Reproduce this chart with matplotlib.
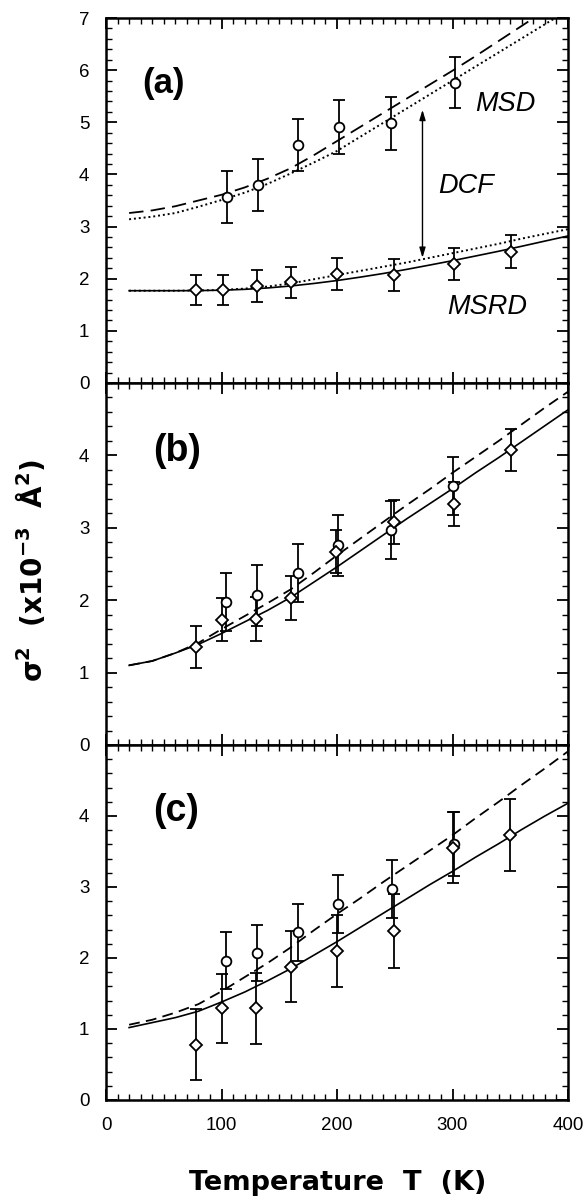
import matplotlib
matplotlib.use("Agg")
import matplotlib.pyplot as plt
from matplotlib.ticker import MultipleLocator

plt.rcParams['font.family'] = ['Liberation Sans', 'DejaVu Sans']
plt.rcParams['mathtext.fontset'] = 'dejavusans'

# ---------------- data ----------------
T_curve = [20, 40, 60, 80, 100, 120, 140, 160, 180, 200, 220, 240, 260, 280, 300, 320, 340, 360, 380, 400]

# panel (a)
a_msd_dash = [3.26, 3.31, 3.39, 3.50, 3.61, 3.75, 3.92, 4.12, 4.37, 4.64, 4.91, 5.18, 5.45, 5.72, 5.99, 6.27, 6.56, 6.85, 7.14, 7.43]
a_msd_dot = [3.14, 3.19, 3.26, 3.38, 3.51, 3.65, 3.82, 4.02, 4.23, 4.45, 4.72, 4.99, 5.26, 5.53, 5.80, 6.07, 6.34, 6.61, 6.88, 7.15]
a_msrd_solid = [1.77, 1.77, 1.77, 1.772, 1.78, 1.796, 1.823, 1.861, 1.909, 1.965, 2.03, 2.10, 2.178, 2.261, 2.346, 2.436, 2.527, 2.623, 2.722, 2.82]
a_msrd_dot = [1.77, 1.77, 1.77, 1.775, 1.785, 1.81, 1.85, 1.91, 1.99, 2.07, 2.15, 2.23, 2.31, 2.40, 2.49, 2.58, 2.67, 2.77, 2.86, 2.95]

a_circ_T = [105, 132, 166, 202, 247, 302]
a_circ_y = [3.56, 3.80, 4.56, 4.91, 4.98, 5.76]
a_circ_e = [0.50, 0.50, 0.50, 0.51, 0.51, 0.49]
a_diam_T = [78, 101, 131, 160, 200, 249, 301, 351]
a_diam_y = [1.79, 1.79, 1.86, 1.93, 2.09, 2.07, 2.28, 2.52]
a_diam_e = [0.29, 0.29, 0.30, 0.30, 0.30, 0.30, 0.30, 0.31]

# panel (b)
b_solid = [1.10, 1.16, 1.27, 1.39, 1.54, 1.70, 1.86, 2.04, 2.25, 2.46, 2.68, 2.90, 3.12, 3.33, 3.54, 3.76, 3.97, 4.19, 4.41, 4.63]
b_dash = [1.10, 1.16, 1.27, 1.41, 1.60, 1.78, 1.96, 2.15, 2.38, 2.62, 2.85, 3.08, 3.31, 3.53, 3.76, 3.98, 4.20, 4.43, 4.66, 4.88]
b_circ_T = [104, 131, 166, 201, 247, 300]
b_circ_y = [1.97, 2.07, 2.37, 2.76, 2.97, 3.58]
b_circ_e = [0.40, 0.42, 0.40, 0.42, 0.40, 0.40]
b_diam_T = [78, 100, 130, 160, 199, 249, 301, 351]
b_diam_y = [1.36, 1.73, 1.74, 2.03, 2.67, 3.08, 3.33, 4.07]
b_diam_e = [0.29, 0.30, 0.31, 0.30, 0.30, 0.30, 0.30, 0.29]

# panel (c)
c_solid = [1.02, 1.09, 1.16, 1.25, 1.38, 1.52, 1.68, 1.85, 2.04, 2.23, 2.43, 2.63, 2.83, 3.03, 3.22, 3.42, 3.61, 3.81, 4.00, 4.18]
c_dash = [1.06, 1.13, 1.23, 1.35, 1.53, 1.73, 1.93, 2.15, 2.39, 2.62, 2.84, 3.07, 3.29, 3.51, 3.73, 3.97, 4.20, 4.44, 4.67, 4.91]
c_circ_T = [104, 131, 166, 201, 248, 301]
c_circ_y = [1.96, 2.07, 2.36, 2.76, 2.97, 3.60]
c_circ_e = [0.40, 0.40, 0.40, 0.41, 0.41, 0.45]
c_diam_T = [78, 100, 130, 160, 200, 249, 300, 350]
c_diam_y = [0.78, 1.29, 1.29, 1.88, 2.10, 2.38, 3.55, 3.73]
c_diam_e = [0.50, 0.49, 0.50, 0.50, 0.51, 0.52, 0.50, 0.51]

x_ticks = [0, 100, 200, 300, 400]
panel_labels = ['(a)', '(b)', '(c)']

# ---------------- figure ----------------
fig = plt.figure(figsize=(5.88, 12.01), dpi=100)
L, W = 0.1803, 0.7857
axa = fig.add_axes([L, 0.6811, W, 0.985 - 0.6811])
axb = fig.add_axes([L, 0.3797, W, 0.6811 - 0.3797])
axc = fig.add_axes([L, 0.0841, W, 0.3797 - 0.0841])

def style(ax, ymax, ylabels_max, show_x):
    ax.set_xlim(0, 400)
    ax.set_ylim(0, ymax)
    ax.xaxis.set_major_locator(MultipleLocator(100))
    ax.xaxis.set_minor_locator(MultipleLocator(10))
    ax.yaxis.set_major_locator(MultipleLocator(1))
    ax.yaxis.set_minor_locator(MultipleLocator(0.2))
    ax.tick_params(which='both', direction='in', top=True, right=True)
    ax.tick_params(which='major', length=8, width=1.3, labelsize=13.5, pad=7)
    ax.tick_params(axis='y', which='major', pad=12)
    ax.tick_params(which='minor', length=4.5, width=1.0)
    ax.set_yticks(list(range(0, ylabels_max + 1)))
    if show_x:
        ax.set_xticks(x_ticks)
        ax.set_xticklabels([str(v) for v in x_ticks])
        ax.tick_params(axis='x', pad=12)
    else:
        ax.tick_params(axis='x', labelbottom=False)
    for s in ax.spines.values():
        s.set_linewidth(1.8)

style(axa, 7, 7, False)
style(axb, 5, 4, False)
style(axc, 5, 4, True)

ekw = dict(fmt='none', ecolor='black', elinewidth=1.3, capsize=4.5, capthick=1.3, zorder=3)
mkw = dict(linestyle='none', markerfacecolor='white', markeredgecolor='black',
           markeredgewidth=1.3, zorder=4)

# panel (a)
axa.plot(T_curve, a_msd_dash, color='black', lw=1.3, linestyle=(0, (8, 4)))
axa.plot(T_curve, a_msd_dot, color='black', lw=1.4, linestyle=(0, (1, 1.5)))
axa.plot(T_curve, a_msrd_solid, color='black', lw=1.2)
axa.plot(T_curve, a_msrd_dot, color='black', lw=1.4, linestyle=(0, (1, 1.5)))
axa.errorbar(a_circ_T, a_circ_y, yerr=a_circ_e, **ekw)
axa.errorbar(a_diam_T, a_diam_y, yerr=a_diam_e, **ekw)
axa.plot(a_circ_T, a_circ_y, marker='o', markersize=7, **mkw)
axa.plot(a_diam_T, a_diam_y, marker='D', markersize=6, **mkw)
axa.annotate('', xy=(274, 5.24), xytext=(274, 2.40),
             arrowprops=dict(arrowstyle='<|-|>,head_length=0.6,head_width=0.18',
                             color='black', lw=1.0, shrinkA=0, shrinkB=0))
axa.text(0.80, 0.764, 'MSD', transform=axa.transAxes, fontsize=19.5,
         style='italic', ha='left', va='center')
axa.text(0.719, 0.54, 'DCF', transform=axa.transAxes, fontsize=19.5,
         style='italic', ha='left', va='center')
axa.text(0.738, 0.207, 'MSRD', transform=axa.transAxes, fontsize=19.5,
         style='italic', ha='left', va='center')

# panel (b)
axb.plot(T_curve, b_solid, color='black', lw=1.2)
axb.plot(T_curve, b_dash, color='black', lw=1.3, linestyle=(0, (6, 3.5)))
axb.errorbar(b_circ_T, b_circ_y, yerr=b_circ_e, **ekw)
axb.errorbar(b_diam_T, b_diam_y, yerr=b_diam_e, **ekw)
axb.plot(b_circ_T, b_circ_y, marker='o', markersize=7, **mkw)
axb.plot(b_diam_T, b_diam_y, marker='D', markersize=6, **mkw)

# panel (c)
axc.plot(T_curve, c_solid, color='black', lw=1.2)
axc.plot(T_curve, c_dash, color='black', lw=1.3, linestyle=(0, (6, 3.5)))
axc.errorbar(c_circ_T, c_circ_y, yerr=c_circ_e, **ekw)
axc.errorbar(c_diam_T, c_diam_y, yerr=c_diam_e, **ekw)
axc.plot(c_circ_T, c_circ_y, marker='o', markersize=7, **mkw)
axc.plot(c_diam_T, c_diam_y, marker='D', markersize=6, **mkw)

# panel labels
axa.text(0.078, 0.82, panel_labels[0], transform=axa.transAxes, fontsize=25,
         fontweight='bold', ha='left', va='center')
axb.text(0.102, 0.812, panel_labels[1], transform=axb.transAxes, fontsize=27,
         fontweight='bold', ha='left', va='center')
axc.text(0.102, 0.813, panel_labels[2], transform=axc.transAxes, fontsize=27,
         fontweight='bold', ha='left', va='center')

fig.text(0.053, 0.525, r'σ$^{\mathbf{2}}$  (x10$^{\mathbf{-3}}$  Å$^{\mathbf{2}}$)',
         rotation=90, fontsize=20, fontweight='bold', family='DejaVu Sans',
         ha='center', va='center')
fig.text(0.575, 0.015, 'Temperature  T  (K)', fontsize=19.5, fontweight='bold',
         family='DejaVu Sans', ha='center', va='center')

fig.savefig('out.png', dpi=100)
